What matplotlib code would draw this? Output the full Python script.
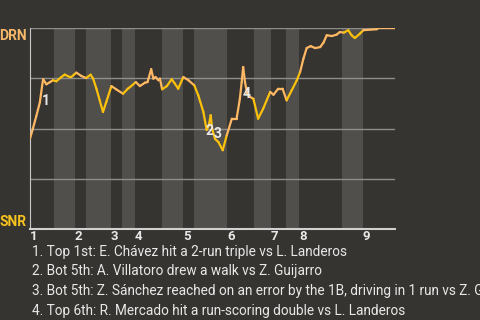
import numpy as np
import matplotlib
matplotlib.use("Agg")
import matplotlib.pyplot as plt
from matplotlib.collections import LineCollection

# half-inning boundaries, in plays
half_innings = [0, 6.6, 12.3, 15.3, 22.2, 25.2, 28.8, 36.2, 41.9, 44.9,
                54.0, 61.4, 66.0, 70.1, 73.7, 85.5, 91.2, 100]
inning_labels = ["1", "2", "3", "4", "5", "6", "7", "8", "9"]

# win probability for DRN, per play
plays = [0.0, 0.8, 1.7, 2.7, 3.3, 3.6, 4.5, 5.4, 6.3, 7.2, 8.6, 9.5, 10.9, 11.3,
         12.7, 14.1, 15.4, 16.6, 17.3, 18.2, 19.1, 20.0, 20.9, 22.3, 23.6, 25.5,
         26.8, 27.4, 29.0, 30.1, 31.5, 32.2, 33.2, 33.8, 34.4, 35.2, 35.6, 36.2,
         37.5, 38.8, 39.7, 40.6, 42.0, 43.4, 45.0, 46.1, 47.5, 48.4, 49.0, 49.5,
         49.9, 50.7, 51.6, 52.8, 53.9, 55.3, 56.6, 57.5, 58.0, 58.4, 58.9, 59.5,
         60.3, 61.2, 62.5, 63.9, 65.8, 66.7, 68.0, 69.2, 70.3, 71.7, 73.1, 74.0,
         74.9, 75.8, 76.9, 78.1, 79.5, 80.4, 81.3, 82.7, 84.0, 84.9, 86.0, 87.2,
         88.1, 89.0, 90.4, 91.3, 95.0, 95.4, 100.0]
win_prob = [0.45, 0.50, 0.56, 0.63, 0.71, 0.745, 0.72, 0.73, 0.74, 0.735, 0.756,
            0.768, 0.756, 0.756, 0.778, 0.761, 0.751, 0.768, 0.748, 0.698, 0.640,
            0.582, 0.632, 0.711, 0.695, 0.673, 0.698, 0.706, 0.731, 0.711, 0.728,
            0.731, 0.795, 0.748, 0.756, 0.740, 0.748, 0.695, 0.711, 0.745, 0.723,
            0.698, 0.756, 0.740, 0.715, 0.665, 0.582, 0.493, 0.516, 0.566, 0.499,
            0.448, 0.433, 0.392, 0.466, 0.549, 0.549, 0.648, 0.731, 0.806, 0.731,
            0.673, 0.657, 0.648, 0.549, 0.599, 0.682, 0.668, 0.698, 0.698, 0.640,
            0.690, 0.740, 0.781, 0.847, 0.900, 0.910, 0.900, 0.905, 0.927, 0.964,
            0.960, 0.967, 0.980, 0.977, 0.989, 0.964, 0.950, 0.972, 0.989, 0.994,
            1.0, 1.0]

event_nums = ["1", "2", "3", "4"]
event_texts = [
    "1. Top 1st: E. Chávez hit a 2-run triple vs L. Landeros",
    "2. Bot 5th: A. Villatoro drew a walk vs Z. Guijarro",
    "3. Bot 5th: Z. Sánchez reached on an error by the 1B, driving in 1 run vs Z. Guijarro",
    "4. Top 6th: R. Mercado hit a run-scoring double vs L. Landeros",
]
# where the event numbers sit on the chart
event_x = [4.4, 49.3, 51.3, 59.4]
event_y = [0.637, 0.488, 0.475, 0.672]

BG = "#363430"
BAND = "#504f4c"
AWAY = "#ffb864"
HOME = "#fcc10a"
TXT = "#e8e8e8"

plt.rcParams["font.family"] = ["Roboto", "DejaVu Sans"]

fig = plt.figure(figsize=(4.8, 3.2), dpi=100, facecolor=BG)
ax = fig.add_axes([30 / 480, 1 - 229 / 320, 365 / 480, 201 / 320])
ax.set_facecolor(BG)

# shade the bottom halves
for i in range(1, len(half_innings) - 1, 2):
    ax.axvspan(half_innings[i], half_innings[i + 1], color=BAND, lw=0, zorder=0)

for y in [0.25, 0.5, 0.75, 1.0]:
    ax.axhline(y, color="#8e8e8c", lw=1.0, zorder=1)

# colour each piece of the line by which team is batting
x = np.array(plays)
y = np.array(win_prob)
segs = np.stack([np.column_stack([x[:-1], y[:-1]]), np.column_stack([x[1:], y[1:]])], axis=1)
mids = (x[:-1] + x[1:]) / 2
half_idx = np.searchsorted(half_innings, mids) - 1
colors = [AWAY if h % 2 == 0 else HOME for h in half_idx]
ax.add_collection(LineCollection(segs, colors=colors, linewidths=1.6, zorder=3,
                                 capstyle="round", joinstyle="round"))

for num, ex, ey in zip(event_nums, event_x, event_y):
    ax.text(ex, ey, num, color=TXT, fontsize=10, fontweight="bold",
            ha="center", va="center", zorder=4)

ax.set_xlim(0, 100)
ax.set_ylim(0, 1)
for s in ["top", "right"]:
    ax.spines[s].set_visible(False)
ax.spines["left"].set_color("#c8c8c8")
ax.spines["bottom"].set_color("#d0d0d0")
ax.spines["bottom"].set_linewidth(1.5)
ax.set_yticks([])
ax.set_xticks(half_innings[0:17:2])
ax.set_xticklabels(inning_labels, ha="left", fontweight="bold", fontsize=9.5, color=TXT)
ax.tick_params(axis="x", length=0, pad=0.5)

fig.text(27 / 480, 1 - 29 / 320, "DRN", color="#f5b86a", fontsize=10,
         fontweight="bold", ha="right", va="top")
fig.text(27 / 480, 1 - 229 / 320, "SNR", color="#f7c21e", fontsize=10,
         fontweight="bold", ha="right", va="bottom")

for i, t in enumerate(event_texts):
    fig.text(32 / 480, 1 - (252 + i * 19.5) / 320, t, color=TXT, fontsize=9.8,
             ha="left", va="center")

fig.savefig("out.png", dpi=100, facecolor=BG)
